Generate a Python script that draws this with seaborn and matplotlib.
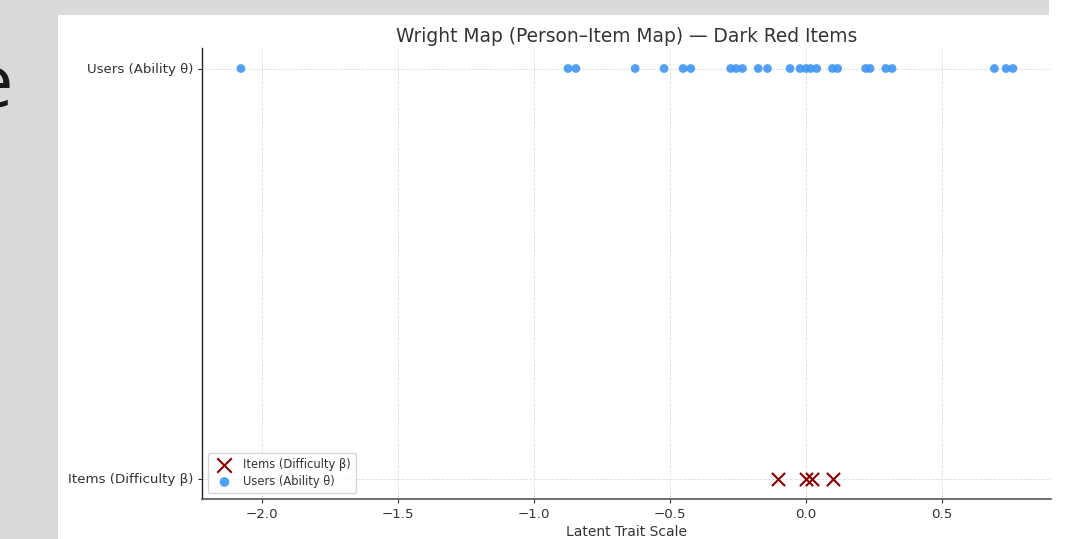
import matplotlib
matplotlib.use("Agg")
import matplotlib.pyplot as plt
import seaborn as sns
import numpy as np
import pandas as pd
from matplotlib.patches import Rectangle

# ---- data ----
users_theta = [-2.077, -0.875, -0.846, -0.628, -0.522, -0.452, -0.424, -0.277,
               -0.257, -0.234, -0.176, -0.142, -0.059, -0.022, 0.0, 0.017,
               0.039, 0.097, 0.116, 0.219, 0.235, 0.293, 0.316, 0.692, 0.735, 0.760]
items_beta = [-0.105, 0.0, 0.022, 0.099]
row_labels = ["Items (Difficulty β)", "Users (Ability θ)"]
x_ticks = [-2.0, -1.5, -1.0, -0.5, 0.0, 0.5]
title = "Wright Map (Person–Item Map) — Dark Red Items"
x_label = "Latent Trait Scale"

sns.set_theme(style="ticks")
plt.rcParams['font.family'] = ['DejaVu Sans']

W, H = 1079, 539
fig = plt.figure(figsize=(W / 100, H / 100), dpi=100)
fig.patch.set_facecolor("#dbd9da")
# white slide panel
fig.patches.append(Rectangle((58 / W, 0), 1 - 58 / W, 1 - 15 / H, transform=fig.transFigure,
                             facecolor="white", edgecolor="none", zorder=-5))
fig.patches.append(Rectangle((1049 / W, 1 - 15 / H), 1 - 1049 / W, 15 / H, transform=fig.transFigure,
                             facecolor="white", edgecolor="none", zorder=-5))
# partial slide letter at far left
fig.text(13 / W, 1 - 108 / H, "e", fontsize=53, family=["Open Sans", "DejaVu Sans"],
         ha="right", va="baseline", color="#1a1a1a")

ax = fig.add_axes([202 / W, 1 - 499 / H, (1051 - 202) / W, (499 - 48) / H])
ax.set_zorder(5)
ax.set_facecolor("none")

items_df = pd.DataFrame({"x": items_beta, "y": [0] * len(items_beta)})
users_df = pd.DataFrame({"x": users_theta, "y": [1] * len(users_theta)})

sns.scatterplot(data=items_df, x="x", y="y", ax=ax, marker="x", s=90, color="#8B0000",
                linewidth=1.5, label="Items (Difficulty β)", zorder=3)
sns.scatterplot(data=users_df, x="x", y="y", ax=ax, marker="o", s=40, color="#3f96f5",
                alpha=0.9, edgecolor="none", label="Users (Ability θ)", zorder=3)

ax.set_yticks([0, 1])
ax.set_yticklabels(row_labels)
ax.set_xticks(x_ticks)
ax.set_xticklabels([f"{t:.1f}".replace("-", "\u2212") for t in x_ticks])
ax.set_ylim(-0.05, 1.05)
ax.set_xlim(-2.22, 0.90)

ax.grid(True, linestyle="--", linewidth=0.6, color="#d4d4d4", alpha=0.8)
ax.set_axisbelow(True)
sns.despine(ax=ax)
ax.spines["left"].set_color("#222222")
ax.spines["bottom"].set_color("#555555")
ax.spines["left"].set_linewidth(1.0)
ax.spines["bottom"].set_linewidth(1.2)
ax.tick_params(axis="both", labelsize=9.6, colors="#333333", length=3, width=0.8)

ax.set_title(title, fontsize=13.4, color="#333333", pad=4)
ax.set_xlabel(x_label, fontsize=10, color="#333333", labelpad=3)
ax.set_ylabel("")

leg = ax.legend(loc="lower left", fontsize=8.3, frameon=True, borderpad=0.45,
                handletextpad=0.6, labelspacing=0.35, markerscale=1.1)
leg.get_frame().set_edgecolor("#cccccc")
for t in leg.get_texts():
    t.set_color("#333333")

fig.savefig("out.png", dpi=100, facecolor=fig.get_facecolor())
